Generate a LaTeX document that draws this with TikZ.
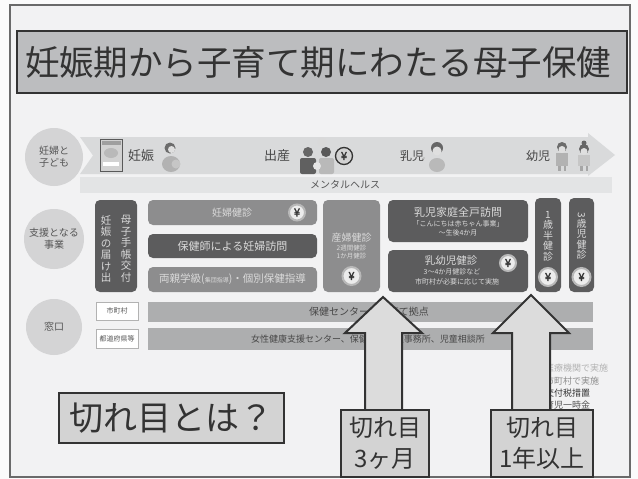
\documentclass[tikz,border=0pt]{standalone}
\usepackage{graphicx}
\usepackage{fontspec}
\setmainfont{Noto Sans CJK JP}
\newfontfamily\jpbold[FakeBold=2.5]{Noto Sans CJK JP}
\newcommand\jfs[1]{\fontsize{#1}{#1}\selectfont}
\newcommand\jfsb[2]{\fontsize{#1}{#2}\selectfont}

\definecolor{paper}{HTML}{FBFBFB}
\definecolor{bg}{HTML}{F2F2F3}
\definecolor{framecol}{HTML}{6A6A6A}
\definecolor{ink}{HTML}{333333}
\definecolor{titlefill}{HTML}{BCBDBF}
\definecolor{circfill}{HTML}{D4D4D5}
\definecolor{bandfill}{HTML}{D9DADB}
\definecolor{mentalfill}{HTML}{E3E4E5}
\definecolor{midbox}{HTML}{8D8D8E}
\definecolor{darkbox}{HTML}{5C5C5D}
\definecolor{boxtext}{HTML}{DADADA}
\definecolor{windowfill}{HTML}{ADAEAF}
\definecolor{arrowfill}{HTML}{DCDCDC}
\definecolor{labelfill}{HTML}{D3D3D3}
\definecolor{softtext}{HTML}{555555}
\definecolor{yenfill}{HTML}{ECECEC}
\definecolor{yenhalo}{HTML}{B8B8B8}

\begin{document}
\begin{tikzpicture}[x=1pt,y=-1pt,
  every node/.style={inner sep=0pt, outer sep=0pt},
  roundbox/.style={rounded corners=5pt, draw=none},
  midb/.style={roundbox, fill=midbox},
  darkb/.style={roundbox, fill=darkbox},
  boxlabel/.style={text=boxtext, align=center},
  circ/.style={circle, fill=circfill, text=softtext, align=center, font=\jfsb{10}{12}},
  yen/.style={circle, fill=yenfill, draw=yenhalo, line width=2pt, minimum size=16pt, text=ink, font=\jpbold\jfs{11}},
  tagbox/.style={draw=gray!60, fill=white, line width=0.6pt, text=softtext, font=\jfs{7}},
  winband/.style={fill=windowfill},
  gaparrow/.style={fill=arrowfill, draw=ink, line width=2pt, line join=miter},
  labelbox/.style={fill=labelfill, draw=ink, line width=2pt, align=center, text=ink},
  bandtext/.style={text=ink!90}]

\useasboundingbox (0,0) rectangle (638,479);
\fill[paper] (0,0) rectangle (638,479);

% slide frame
\draw[fill=bg, draw=framecol, line width=1.5pt] (10,5) rectangle (630,477);

% title
\node[fill=titlefill, draw=ink, line width=1.8pt, minimum width=610pt, minimum height=62pt] (title) at (322,62) {};
\node[anchor=west, text=ink, font=\jfs{34.5}] (titletext) at (25,62) {妊娠期から子育て期にわたる母子保健};

% life-stage band
\path[fill=bandfill] (80,137) -- (588,137) -- (588,133) -- (615,155) -- (588,176) -- (588,174) -- (80,174) -- (93,155.5) -- cycle;
\node[fill=mentalfill, minimum width=532pt, minimum height=16pt] (mental) at (346,185) {};
\node[text=softtext, font=\jfs{10}] (mentaltext) at (345,185) {メンタルヘルス};

% row labels
\node[circ, minimum size=58pt] (kodomo) at (54,157) {妊婦と\\子ども};
\node[circ, minimum size=60pt] (jigyo) at (54,239) {支援となる\\事業};
\node[circ, minimum size=56pt] (madoguchi) at (54,327) {窓口};

% handbook icon
\draw[fill=gray!35, draw=gray!70!black, line width=0.6pt] (100,139) rectangle (122,171);
\fill[gray!75] (101.5,140.5) rectangle (120.5,144.5);
\fill[gray!55] (111,153) ellipse [x radius=7, y radius=5];
\fill[white] (103,162) rectangle (119,166);
\node[bandtext, font=\jfs{13}] (ninshin) at (141,156) {妊娠};
% expectant mother
\fill[gray!60] (171,164) ellipse [x radius=9, y radius=8];
\fill[gray!45] (176,164) circle (4.5);
\fill[gray!85!black] (170,148) circle (5.5);
\fill[gray!25] (171.5,149.5) circle (3.5);

\node[bandtext, font=\jfs{13}] (shussan) at (277,156) {出産};
% family at birth
\fill[gray!30] (322,142) circle (4.5);
\fill[gray!75!black, rounded corners=2pt] (300,158) rectangle (316,174);
\fill[gray!80!black] (308,152) circle (5);
\fill[gray!55, rounded corners=2pt] (319,158) rectangle (334,174);
\fill[gray!70!black] (326,152) circle (5);
\fill[gray!20] (317,166) circle (4);
\node[circle, fill=gray!35, draw=ink, line width=1.3pt, minimum size=17pt, text=ink, font=\jpbold\jfs{11}] (birthyen) at (344,156) {¥};

\node[bandtext, font=\jfs{12}] (nyujitext) at (412,156) {乳児};
% infant
\fill[gray!50] (424,158) circle (1.2);
\fill[gray!55] (437,165) ellipse [x radius=8, y radius=7];
\fill[gray!80!black] (437,148) circle (6);
\fill[gray!25] (437,151) circle (4.5);

\node[bandtext, font=\jfs{12}] (yojitext) at (538,156) {幼児};
% toddlers
\fill[gray!60] (556,153) rectangle (568,166);
\fill[gray!70] (558,166) rectangle (560.5,171);
\fill[gray!70] (563.5,166) rectangle (566,171);
\fill[gray!85!black] (562,147) circle (5);
\fill[gray!25] (562,149.5) circle (3.5);
\fill[gray!45] (578,155) rectangle (590,166);
\fill[gray!70] (580,166) rectangle (582.5,171);
\fill[gray!70] (585.5,166) rectangle (588,171);
\fill[gray!80!black] (584,143) circle (2.5);
\fill[gray!80!black] (584,149) circle (5);
\fill[gray!25] (584,151.5) circle (3.5);

% support programmes
\node[darkb, minimum width=42pt, minimum height=92pt] (techo) at (116,246) {};
\node[boxlabel, font=\jfsb{10.5}{11.5}] (techoR) at (126,249) {母\\子\\手\\帳\\交\\付};
\node[boxlabel, font=\jfsb{10.5}{11.5}] (techoL) at (106,249) {妊\\娠\\の\\届\\け\\出};

\node[midb, minimum width=169pt, minimum height=25pt] (ninpu) at (232.5,212.5) {};
\node[boxlabel, font=\jfs{10}] (ninputext) at (232,212.5) {妊婦健診};
\node[yen] (ninpuyen) at (297,212.5) {¥};

\node[darkb, minimum width=169pt, minimum height=24pt] (houmon) at (232.5,246) {};
\node[boxlabel, font=\jfs{11}] (houmontext) at (232.5,246) {保健師による妊婦訪問};

\node[midb, minimum width=169pt, minimum height=25pt] (gakkyu) at (232.5,279.5) {};
\node[boxlabel, font=\jfs{10.5}] (gakkyutext) at (232.5,279.5) {両親学級({\jfs{6}集団指導})・個別保健指導};

\node[midb, minimum width=57pt, minimum height=92pt] (sanpu) at (351.5,246) {};
\node[boxlabel, font=\jfs{10}] (sanputext) at (351.5,238) {産婦健診};
\node[boxlabel, font=\jfs{6.5}] (sanpu2) at (351.5,248) {2週間健診};
\node[boxlabel, font=\jfs{6.5}] (sanpu1) at (351.5,256) {1か月健診};
\node[yen, minimum size=18pt] (sanpuyen) at (351.5,276) {¥};

\node[darkb, minimum width=140pt, minimum height=42pt] (zenko) at (458,221) {};
\node[boxlabel, font=\jfs{11}] (zenkotext) at (458,212) {乳児家庭全戸訪問};
\node[boxlabel, font=\jfs{7}] (zenko2) at (458,223.5) {「こんにちは赤ちゃん事業」};
\node[boxlabel, font=\jfs{7}] (zenko3) at (458,233) {〜生後4か月};

\node[darkb, minimum width=140pt, minimum height=42pt] (kenshin) at (458,271) {};
\node[boxlabel, font=\jfs{10.5}] (kenshintext) at (451,261) {乳幼児健診};
\node[boxlabel, font=\jfs{7}] (kenshin2) at (452,272) {3〜4か月健診など};
\node[boxlabel, font=\jfs{7}] (kenshin3) at (457,282) {市町村が必要に応じて実施};
\node[yen] (kenshinyen) at (508,263) {¥};

\node[darkb, minimum width=26pt, minimum height=94pt] (issai) at (548,245) {};
\node[boxlabel, font=\jfsb{10}{10.5}] (issaitext) at (548,236) {1\\歳\\半\\健\\診};
\node[yen, minimum size=18pt] (issaiyen) at (548,277) {¥};

\node[darkb, minimum width=25pt, minimum height=94pt] (sansai) at (581.5,245) {};
\node[boxlabel, font=\jfsb{10}{10.5}] (sansaitext) at (581.5,236) {\rotatebox{-90}{3}\\歳\\児\\健\\診};
\node[yen, minimum size=18pt] (sansaiyen) at (581.5,277) {¥};

% contact points
\node[tagbox, minimum width=42pt, minimum height=18pt] (shichoson) at (117,311) {市町村};
\node[tagbox, minimum width=42pt, minimum height=19pt] (todofuken) at (117,338.5) {都道府県等};
\node[winband, minimum width=445pt, minimum height=20pt] (center1) at (370.5,312) {};
\node[anchor=west, font=\jfs{10}, text=ink!90] (center1text) at (309,312) {保健センター、子育て拠点};
\node[winband, minimum width=445pt, minimum height=22pt] (center2) at (370.5,339) {};
\node[anchor=west, font=\jfs{9}, text=ink!90] (center2text) at (251,339.5) {女性健康支援センター、保健所、福祉事務所、児童相談所};

% legend
\node[anchor=west, font=\jfs{9}, text=gray!60] (leg1) at (545,368) {医療機関で実施};
\node[anchor=west, font=\jfs{9}, text=gray!110!black] (leg2) at (545,381) {市町村で実施};
\node[anchor=west, font=\jfs{9}, text=ink] (leg3) at (545,393.5) {交付税措置};
\node[anchor=west, font=\jfs{9}, text=softtext] (leg4) at (545,405.5) {育児一時金};

% gap arrows
\coordinate (gap1tip) at (383,297);
\coordinate (gap2tip) at (531,295);
\draw[gaparrow] (gap1tip) -- (422,333) -- (402,333) -- (402,412) -- (365,412) -- (365,333) -- (345,333) -- cycle;
\draw[gaparrow] (gap2tip) -- (569,333) -- (550,333) -- (550,412) -- (512,412) -- (512,333) -- (493,333) -- cycle;

\node[labelbox, minimum width=88pt, minimum height=67pt, font=\jfsb{24}{31}] (gap1) at (385,443.5) {切れ目\\3ヶ月};
\node[labelbox, minimum width=102pt, minimum height=67pt, font=\jfsb{24}{31}] (gap2) at (542,443.5) {切れ目\\1年以上};

\node[labelbox, minimum width=225pt, minimum height=50pt, font=\jfs{34}] (question) at (171.5,418) {切れ目とは？};
\end{tikzpicture}
\end{document}
